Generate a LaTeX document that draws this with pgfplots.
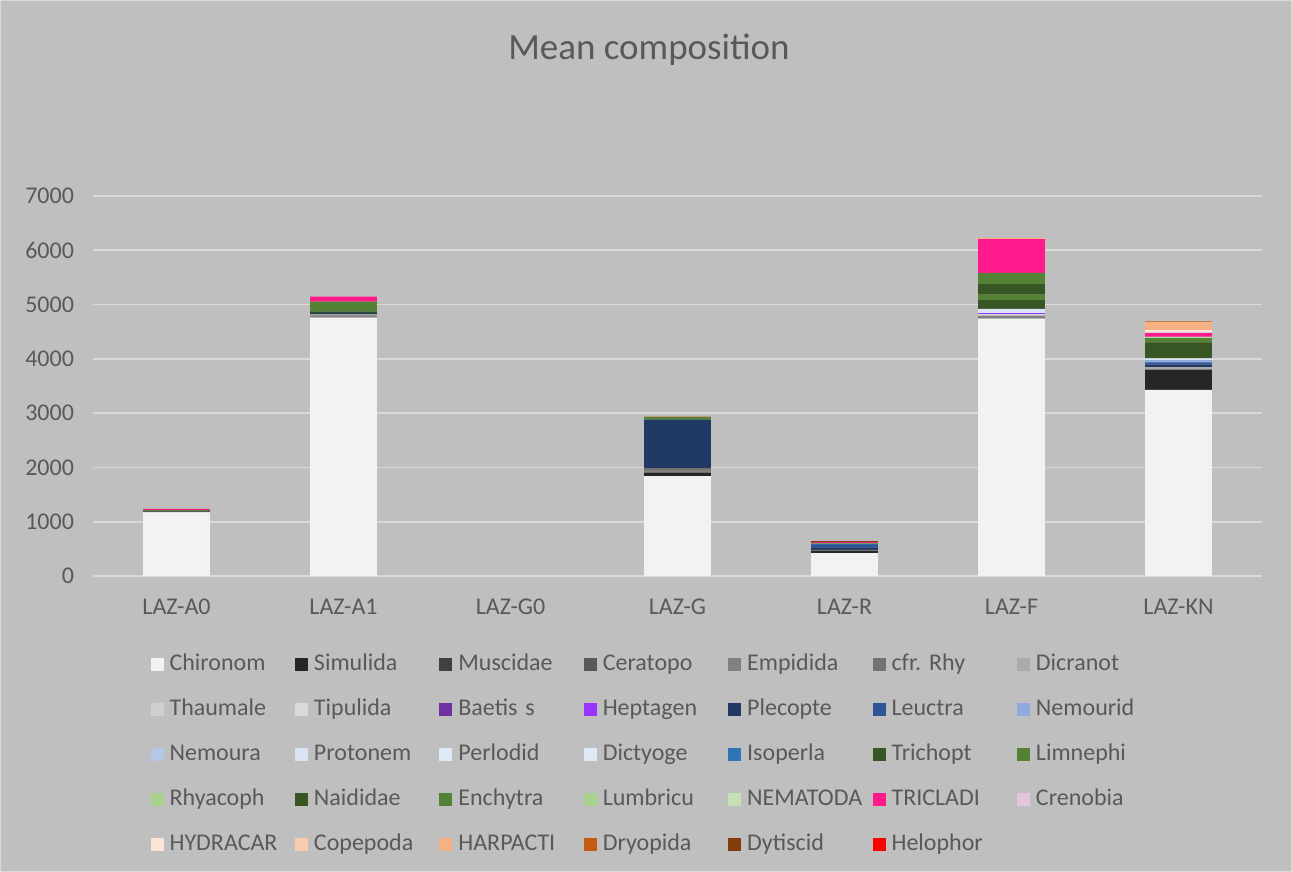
\documentclass[border=0pt]{standalone}
\usepackage{fontspec}
\setmainfont{Carlito}
\usepackage{pgfplots}
\usepackage{pgfplotstable}
\pgfplotsset{compat=1.18}
\pgfdeclarelayer{background}
\pgfsetlayers{background,main}
\frenchspacing

\definecolor{txt}{HTML}{595959}
\definecolor{bg}{HTML}{BFBFBF}
\definecolor{gridc}{HTML}{D9D9D9}
\definecolor{cChironom}{HTML}{F2F2F2}
\definecolor{cSimulida}{HTML}{262626}
\definecolor{cMuscidae}{HTML}{404040}
\definecolor{cCeratopo}{HTML}{595959}
\definecolor{cEmpidida}{HTML}{808080}
\definecolor{ccfrRhy}{HTML}{767171}
\definecolor{cDicranot}{HTML}{AEAAAA}
\definecolor{cThaumale}{HTML}{D0CECE}
\definecolor{cTipulida}{HTML}{D9D9D9}
\definecolor{cBaetis}{HTML}{7030A0}
\definecolor{cHeptagen}{HTML}{9933FF}
\definecolor{cPlecopte}{HTML}{1F3864}
\definecolor{cLeuctra}{HTML}{2F5597}
\definecolor{cNemourid}{HTML}{8FAADC}
\definecolor{cNemoura}{HTML}{B4C7E7}
\definecolor{cProtonem}{HTML}{DAE3F3}
\definecolor{cPerlodid}{HTML}{DEEBF7}
\definecolor{cDictyoge}{HTML}{DEEBF7}
\definecolor{cIsoperla}{HTML}{2E75B6}
\definecolor{cTrichopt}{HTML}{375623}
\definecolor{cLimnephi}{HTML}{548235}
\definecolor{cRhyacoph}{HTML}{A9D18E}
\definecolor{cNaididae}{HTML}{375623}
\definecolor{cEnchytra}{HTML}{548235}
\definecolor{cLumbricu}{HTML}{A9D18E}
\definecolor{cNEMATODA}{HTML}{C5E0B4}
\definecolor{cTRICLADI}{HTML}{FF1A8C}
\definecolor{cCrenobia}{HTML}{E2C6E0}
\definecolor{cHYDRACAR}{HTML}{FBE5D6}
\definecolor{cCopepoda}{HTML}{F8CBAD}
\definecolor{cHARPACTI}{HTML}{F4B183}
\definecolor{cDryopida}{HTML}{C55A11}
\definecolor{cDytiscid}{HTML}{843C0C}
\definecolor{cHelophor}{HTML}{FF0000}

% mean abundance per site (rows) and taxon (columns)
\pgfplotstableread{
x Chironom Simulida Muscidae Ceratopo Empidida cfrRhy Dicranot Thaumale Tipulida Baetis Heptagen Plecopte Leuctra Nemourid Nemoura Protonem Perlodid Dictyoge Isoperla Trichopt Limnephi Rhyacoph Naididae Enchytra Lumbricu NEMATODA TRICLADI Crenobia HYDRACAR Copepoda HARPACTI Dryopida Dytiscid Helophor
0 1170 0 0 25 0 0 0 0 0 0 0 0 0 0 0 0 0 0 0 0 20 0 0 0 0 0 20 0 0 0 0 0 0 0
1 4760 0 0 0 40 0 20 0 0 0 0 25 0 0 0 0 0 0 0 30 180 0 0 0 0 0 90 0 0 0 0 0 0 0
2 0 0 0 0 0 0 0 0 0 0 0 0 0 0 0 0 0 0 0 0 0 0 0 0 0 0 0 0 0 0 0 0 0 0
3 1840 65 0 0 50 37 0 0 0 0 0 890 0 0 0 0 0 0 0 0 0 0 0 45 0 0 0 0 0 0 0 10 0 0
4 420 45 0 0 15 0 0 0 0 0 0 45 55 0 0 0 0 0 15 0 0 0 0 15 0 0 15 0 0 0 0 0 20 0
5 4740 0 0 0 55 0 0 0 25 0 20 0 0 0 0 80 0 0 0 160 105 0 190 210 0 0 620 0 0 0 30 0 0 0
6 3430 370 0 0 0 0 50 0 0 0 0 45 40 40 0 35 0 0 0 0 0 0 295 80 0 25 65 20 30 0 150 15 0 0
}\comp

\begin{document}
\begin{tikzpicture}
\begin{axis}[
  scale only axis, width=584.5pt, height=190pt,
  ybar stacked, bar width=0.4,
  xmin=-0.5, xmax=6.5, ymin=0, ymax=7000,
  xtick={0,...,6},
  xticklabels={LAZ-A0,LAZ-A1,LAZ-G0,LAZ-G,LAZ-R,LAZ-F,LAZ-KN},
  ytick={0,1000,...,7000},
  ymajorgrids, grid style={gridc,line width=0.8pt},
  axis line style={draw=none},
  major tick length=0pt,
  tick label style={txt,font=\fontsize{12}{14}\selectfont},
  /pgf/number format/assume math mode=true,
  yticklabel style={xshift=-6pt},
  xticklabel style={yshift=-8pt},
  scaled y ticks=false,
  /pgf/number format/set thousands separator={},
  every axis plot/.append style={draw=none},
  legend image code/.code={\fill[#1] (0pt,-3.25pt) rectangle (6.5pt,3.25pt);},
  legend columns=7,
  legend style={draw=none, fill=none, at={(0.0438,-0.192)}, anchor=north west,
    font=\fontsize{12}{14}\selectfont, text=txt,
    nodes={inner sep=0pt, text height=8.5pt, text depth=2.5pt},
    /tikz/every odd column/.style={column sep=3pt},
    /tikz/every even column/.style={column sep=2.7pt},
    row sep=11.5pt},
  legend cell align=left,
  legend style={cells={text width=60pt, align=left}},
]
\coordinate (O) at (axis cs:-0.5,0);
\addplot[fill=cChironom] table[x=x,y=Chironom]{\comp}; \addlegendentry{Chironom}
\addplot[fill=cSimulida] table[x=x,y=Simulida]{\comp}; \addlegendentry{Simulida}
\addplot[fill=cMuscidae] table[x=x,y=Muscidae]{\comp}; \addlegendentry{Muscidae}
\addplot[fill=cCeratopo] table[x=x,y=Ceratopo]{\comp}; \addlegendentry{Ceratopo}
\addplot[fill=cEmpidida] table[x=x,y=Empidida]{\comp}; \addlegendentry{Empidida}
\addplot[fill=ccfrRhy] table[x=x,y=cfrRhy]{\comp}; \addlegendentry{\mbox{cfr. Rhy}}
\addplot[fill=cDicranot] table[x=x,y=Dicranot]{\comp}; \addlegendentry{Dicranot}
\addplot[fill=cThaumale] table[x=x,y=Thaumale]{\comp}; \addlegendentry{Thaumale}
\addplot[fill=cTipulida] table[x=x,y=Tipulida]{\comp}; \addlegendentry{Tipulida}
\addplot[fill=cBaetis] table[x=x,y=Baetis]{\comp}; \addlegendentry{\mbox{Baetis s}}
\addplot[fill=cHeptagen] table[x=x,y=Heptagen]{\comp}; \addlegendentry{Heptagen}
\addplot[fill=cPlecopte] table[x=x,y=Plecopte]{\comp}; \addlegendentry{Plecopte}
\addplot[fill=cLeuctra] table[x=x,y=Leuctra]{\comp}; \addlegendentry{Leuctra}
\addplot[fill=cNemourid] table[x=x,y=Nemourid]{\comp}; \addlegendentry{Nemourid}
\addplot[fill=cNemoura] table[x=x,y=Nemoura]{\comp}; \addlegendentry{Nemoura}
\addplot[fill=cProtonem] table[x=x,y=Protonem]{\comp}; \addlegendentry{Protonem}
\addplot[fill=cPerlodid] table[x=x,y=Perlodid]{\comp}; \addlegendentry{Perlodid}
\addplot[fill=cDictyoge] table[x=x,y=Dictyoge]{\comp}; \addlegendentry{Dictyoge}
\addplot[fill=cIsoperla] table[x=x,y=Isoperla]{\comp}; \addlegendentry{Isoperla}
\addplot[fill=cTrichopt] table[x=x,y=Trichopt]{\comp}; \addlegendentry{Trichopt}
\addplot[fill=cLimnephi] table[x=x,y=Limnephi]{\comp}; \addlegendentry{Limnephi}
\addplot[fill=cRhyacoph] table[x=x,y=Rhyacoph]{\comp}; \addlegendentry{Rhyacoph}
\addplot[fill=cNaididae] table[x=x,y=Naididae]{\comp}; \addlegendentry{Naididae}
\addplot[fill=cEnchytra] table[x=x,y=Enchytra]{\comp}; \addlegendentry{Enchytra}
\addplot[fill=cLumbricu] table[x=x,y=Lumbricu]{\comp}; \addlegendentry{Lumbricu}
\addplot[fill=cNEMATODA] table[x=x,y=NEMATODA]{\comp}; \addlegendentry{NEMATODA}
\addplot[fill=cTRICLADI] table[x=x,y=TRICLADI]{\comp}; \addlegendentry{TRICLADI}
\addplot[fill=cCrenobia] table[x=x,y=Crenobia]{\comp}; \addlegendentry{Crenobia}
\addplot[fill=cHYDRACAR] table[x=x,y=HYDRACAR]{\comp}; \addlegendentry{HYDRACAR}
\addplot[fill=cCopepoda] table[x=x,y=Copepoda]{\comp}; \addlegendentry{Copepoda}
\addplot[fill=cHARPACTI] table[x=x,y=HARPACTI]{\comp}; \addlegendentry{HARPACTI}
\addplot[fill=cDryopida] table[x=x,y=Dryopida]{\comp}; \addlegendentry{Dryopida}
\addplot[fill=cDytiscid] table[x=x,y=Dytiscid]{\comp}; \addlegendentry{Dytiscid}
\addplot[fill=cHelophor] table[x=x,y=Helophor]{\comp}; \addlegendentry{Helophor}
\end{axis}
% chart area and title, placed from the lower left corner of the plot area
\node[txt,font=\fontsize{18.5}{22}\selectfont] at ([shift={(278pt,263pt)}]O) {Mean composition};
\begin{pgfonlayer}{background}
\fill[bg] ([shift={(-46.5pt,-148pt)}]O) rectangle ++(646pt,436pt);
\draw[gridc,line width=0.6pt] ([shift={(-46.2pt,-147.7pt)}]O) rectangle ++(645.4pt,435.4pt);
\end{pgfonlayer}
\end{tikzpicture}
\end{document}
